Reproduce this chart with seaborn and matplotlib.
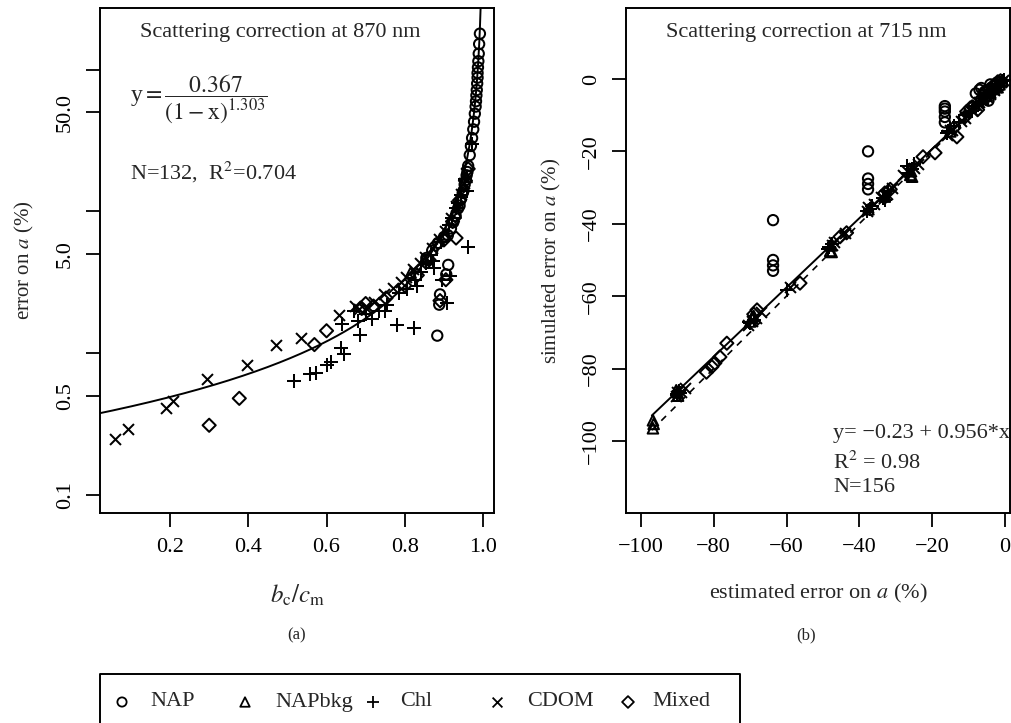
import numpy as np
import pandas as pd
import seaborn as sns
import matplotlib
matplotlib.use("Agg")
import matplotlib.pyplot as plt

# ---------------- data: panel (a) ----------------
nap_a_x = [0.992, 0.990, 0.989, 0.988, 0.987, 0.986, 0.986, 0.985, 0.984, 0.983, 0.982, 0.981, 0.979, 0.977,
           0.975, 0.972, 0.969, 0.966, 0.962, 0.958, 0.953, 0.948, 0.942, 0.936, 0.930, 0.924, 0.918, 0.910,
           0.900, 0.885, 0.870, 0.855, 0.911, 0.906, 0.890, 0.888, 0.883, 0.940, 0.950, 0.960]
nap_a_y = [180, 152, 130, 115, 104, 95, 88, 80, 72, 66, 60, 55, 49, 43,
           38, 33, 29, 25, 21, 18, 15.5, 13.5, 12, 10.5, 9.3, 8.4, 7.6, 6.8,
           6.6, 6.0, 5.3, 4.7, 4.2, 3.6, 2.6, 2.2, 1.33, 11, 14, 19]
bkg_a_x = [0.850, 0.900, 0.930, 0.958, 0.815]
bkg_a_y = [4.6, 6.9, 9.8, 17.5, 3.7]
chl_a_x = [0.517, 0.557, 0.572, 0.600, 0.612, 0.637, 0.645, 0.686, 0.780, 0.824, 0.640, 0.700, 0.735, 0.715,
           0.755, 0.785, 0.805, 0.825, 0.842, 0.855, 0.868, 0.875, 0.895, 0.908, 0.916, 0.962, 0.893, 0.912,
           0.930, 0.944, 0.955, 0.936, 0.920, 0.830, 0.872, 0.750, 0.680, 0.670, 0.960, 0.972]
chl_a_y = [0.64, 0.71, 0.72, 0.83, 0.87, 1.08, 0.98, 1.35, 1.57, 1.50, 1.60, 1.90, 1.97, 1.75,
           2.20, 2.65, 2.85, 3.30, 3.75, 4.30, 4.90, 4.00, 3.30, 2.25, 3.50, 5.60, 6.10, 8.00,
           10.5, 13.0, 17.0, 11.5, 9.00, 3.00, 4.50, 2.00, 1.70, 2.00, 14.0, 30.0]
cdom_a_x = [0.059, 0.093, 0.190, 0.207, 0.295, 0.397, 0.470, 0.535, 0.632, 0.673, 0.682, 0.700, 0.722, 0.748,
            0.770, 0.790, 0.803, 0.820, 0.838, 0.852, 0.870, 0.888, 0.902, 0.918, 0.932, 0.943, 0.952]
cdom_a_y = [0.248, 0.29, 0.41, 0.46, 0.66, 0.83, 1.15, 1.29, 1.85, 2.17, 2.05, 2.10, 2.30, 2.60,
            2.90, 3.20, 3.45, 3.90, 4.35, 4.80, 5.50, 6.40, 7.30, 9.00, 11.0, 13.2, 16.0]
mix_a_x = [0.300, 0.377, 0.569, 0.600, 0.690, 0.700, 0.720, 0.752, 0.800, 0.832, 0.862, 0.880, 0.900, 0.931,
           0.905, 0.890, 0.922, 0.940, 0.955, 0.962]
mix_a_y = [0.31, 0.48, 1.15, 1.44, 2.07, 2.24, 2.15, 2.45, 3.00, 3.55, 4.55, 5.80, 6.30, 6.50,
           3.30, 2.35, 8.50, 12.0, 16.5, 20.0]
fit_a_coef = 0.367
fit_a_exp = 1.303

# ---------------- data: panel (b) ----------------
nap_b_x = [-63.7, -63.7, -63.7, -63.7, -37.6, -37.6, -37.6, -37.6, -16.5, -16.5, -16.5, -16.5,
           -7.0, -6.0, -5.0, -4.0, -3.0, -2.5, -4.5, -8.0, -6.5, -5.5, -3.5, -2.0, -1.5, -4.0, -16.5]
nap_b_y = [-39.0, -50.0, -51.5, -53.0, -20.0, -27.5, -29.0, -30.5, -7.5, -9.0, -10.5, -12.0,
           -3.0, -4.5, -5.0, -4.0, -2.0, -1.5, -6.0, -4.0, -2.5, -3.5, -2.8, -1.0, -2.0, -1.5, -8.2]
bkg_b_x = [-96.7, -96.7, -96.5, -90.0, -89.8, -70.0, -69.5, -48.0, -47.8, -37.5, -33.0, -25.5, -25.8,
           -15.0, -5.0, -3.0, -1.5, -90.3, -69.0, -47.6, -26.0, -6.0, -4.0, -2.0, -0.8]
bkg_b_y = [-96.5, -94.3, -95.3, -86.5, -87.5, -67.0, -66.0, -47.5, -46.0, -36.0, -32.5, -27.0, -25.5,
           -14.5, -4.5, -2.8, -1.5, -86.0, -65.5, -47.8, -26.5, -5.5, -3.8, -2.3, -0.6]
chl_b_x = [-90.0, -89.5, -70.0, -69.0, -60.0, -48.2, -47.5, -37.8, -36.5, -33.5, -32.0, -27.0, -26.5,
           -25.0, -15.5, -14.0, -10.0, -8.0, -6.0, -4.0, -2.0, -1.0, -89.2, -70.2, -48.5, -37.0,
           -12.5, -9.0, -7.0, -5.0, -3.0, -0.8, -25.5, -33.0, -16.0, -11.0, -0.3]
chl_b_y = [-87.0, -86.2, -67.5, -66.5, -58.3, -46.5, -45.5, -36.5, -35.0, -33.0, -31.0, -24.0, -26.0,
           -23.5, -14.5, -13.0, -9.5, -7.5, -6.0, -3.5, -2.0, -1.0, -86.8, -67.2, -47.0, -35.8,
           -12.0, -8.8, -6.8, -4.8, -3.2, -0.5, -24.8, -33.5, -15.0, -10.0, -0.2]
cdom_b_x = [-90.5, -89.0, -88.0, -70.5, -68.5, -67.0, -59.0, -47.0, -44.0, -38.0, -36.0, -34.0, -31.0,
            -28.0, -24.0, -16.0, -14.5, -12.0, -9.0, -7.0, -5.0, -3.0, -1.5, -0.5, -90.0, -69.5,
            -47.5, -37.5, -8.0, -6.0, -4.0, -2.5, -1.0, -27.0, -15.0, -11.0, -33.0, -32.5, -25.0]
cdom_b_y = [-87.5, -86.5, -85.5, -68.0, -66.0, -64.5, -57.5, -45.0, -42.5, -36.5, -34.5, -32.5, -30.0,
            -26.5, -23.5, -15.5, -14.0, -11.5, -8.5, -6.5, -5.0, -3.0, -1.2, -0.3, -86.5, -67.0,
            -46.0, -35.5, -7.2, -5.8, -4.2, -2.2, -0.8, -25.5, -14.2, -10.8, -32.0, -31.8, -24.5]
mix_b_x = [-82.0, -80.5, -79.7, -78.3, -76.4, -68.1, -56.3, -45.3, -43.5, -33.0, -31.5, -22.5, -19.2,
           -13.2, -11.0, -8.8, -6.5, -4.5, -3.3, -2.0, -10.5, -7.5, -14.0, -9.5, -5.5, -2.8, -1.2, -69.0]
mix_b_y = [-81.0, -79.5, -78.5, -76.8, -73.0, -63.8, -56.4, -43.6, -42.5, -31.5, -30.5, -21.5, -20.4,
           -16.0, -10.5, -7.7, -5.5, -3.0, -2.0, -0.8, -9.0, -8.5, -13.5, -8.0, -3.5, -1.5, -0.5, -65.0]
fit_b_intercept = -0.23
fit_b_slope = 0.956
fit_b_range = [-97.0, 0.5]

legend_labels = ["NAP", "NAPbkg", "Chl", "CDOM", "Mixed"]

# ---------------- style ----------------
sns.set_style("ticks")
plt.rcParams["font.family"] = ["Liberation Serif", "DejaVu Serif"]
plt.rcParams["mathtext.fontset"] = "stix"
plt.rcParams["axes.linewidth"] = 1.4
plt.rcParams["axes.edgecolor"] = "black"
plt.rcParams["xtick.color"] = "black"
plt.rcParams["ytick.color"] = "black"

FS = 16
W, H = 1011, 723
fig = plt.figure(figsize=(W / 100, H / 100), dpi=100)

def px_axes(l, r, t, b):
    return fig.add_axes([l / W, (H - b) / H, (r - l) / W, (b - t) / H])

axA = px_axes(100, 494, 8, 513)
axB = px_axes(626, 1010, 8, 513)

STY = {
    "NAP": dict(marker="o", s=55),
    "NAPbkg": dict(marker="^", s=58),
    "Chl": dict(marker="+", s=100),
    "CDOM": dict(marker="x", s=62),
    "Mixed": dict(marker="D", s=45),
}
MLW = 1.45

def draw(ax, xs, ys, key):
    st = STY[key]
    if st["marker"] in ("+", "x"):
        sns.scatterplot(x=xs, y=ys, ax=ax, marker=st["marker"], s=st["s"], color="black",
                        linewidth=MLW, zorder=3)
    else:
        sns.scatterplot(x=xs, y=ys, ax=ax, marker=st["marker"], s=st["s"], facecolor="none",
                        edgecolor="black", linewidth=MLW, zorder=3)

# ---------------- panel (a) ----------------
axA.set_yscale("log")
draw(axA, nap_a_x, nap_a_y, "NAP")
draw(axA, bkg_a_x, bkg_a_y, "NAPbkg")
draw(axA, chl_a_x, chl_a_y, "Chl")
draw(axA, cdom_a_x, cdom_a_y, "CDOM")
draw(axA, mix_a_x, mix_a_y, "Mixed")
curve_x = np.linspace(0.0, 0.9937, 600)
curve_y = fit_a_coef / (1 - curve_x) ** fit_a_exp
sns.lineplot(x=curve_x, y=curve_y, ax=axA, color="black", linewidth=1.4, estimator=None, sort=False)
axA.set_xlim(0.021, 1.028)
axA.set_ylim(0.0745, 273)
axA.set_xticks([0.2, 0.4, 0.6, 0.8, 1.0])
axA.set_xticklabels(["0.2", "0.4", "0.6", "0.8", "1.0"])
axA.yaxis.set_minor_locator(matplotlib.ticker.NullLocator())
axA.set_yticks([0.1, 0.5, 1, 5, 10, 50, 100])
axA.set_yticklabels(["0.1", "0.5", "", "5.0", "", "50.0", ""])
axA.set_xlabel(r"$b_{\mathrm{c}}/c_{\mathrm{m}}$", fontsize=FS + 2, va="center")
axA.xaxis.set_label_coords(0.5, (513 - 595) / 505)
axA.set_ylabel(r"error on $a$ (%)", fontsize=FS - 1, va="center")
axA.yaxis.set_label_coords((24 - 100) / 394, 0.5)
axA.text(0.457, 0.952, "Scattering correction at 870 nm", transform=axA.transAxes,
         ha="center", va="center", fontsize=FS)
axA.text(0.076, 0.82, r"y$=\dfrac{0.367}{(1-\mathrm{x})^{1.303}}$", transform=axA.transAxes,
         ha="left", va="center", fontsize=FS + 1)
axA.text(0.076, 0.675, r"N=132,  R$^2$=0.704", transform=axA.transAxes,
         ha="left", va="center", fontsize=FS)

# ---------------- panel (b) ----------------
draw(axB, nap_b_x, nap_b_y, "NAP")
draw(axB, bkg_b_x, bkg_b_y, "NAPbkg")
draw(axB, chl_b_x, chl_b_y, "Chl")
draw(axB, cdom_b_x, cdom_b_y, "CDOM")
draw(axB, mix_b_x, mix_b_y, "Mixed")
line_x = np.array(fit_b_range)
sns.lineplot(x=line_x, y=fit_b_intercept + fit_b_slope * line_x, ax=axB, color="black",
             linewidth=1.4, estimator=None, sort=False)
sns.lineplot(x=line_x, y=line_x, ax=axB, color="black", linewidth=1.2, linestyle=(0, (4, 4)),
             estimator=None, sort=False)
axB.set_xlim(-104.1, 1.4)
axB.set_ylim(-119.9, 19.6)
axB.set_xticks([-100, -80, -60, -40, -20, 0])
axB.set_yticks([-100, -80, -60, -40, -20, 0])
axB.set_xlabel(r"estimated error on $a$ (%)", fontsize=FS, va="center")
axB.xaxis.set_label_coords(0.5, (513 - 593) / 505)
axB.set_ylabel(r"simulated error on $a$ (%)", fontsize=FS - 1, va="center")
axB.yaxis.set_label_coords((551 - 626) / 384, 0.5)
axB.text(0.469, 0.952, "Scattering correction at 715 nm", transform=axB.transAxes,
         ha="center", va="center", fontsize=FS)
axB.text(0.539, 0.158, "y= \u22120.23 + 0.956*x", transform=axB.transAxes,
         ha="left", va="center", fontsize=FS)
axB.text(0.539, 0.099, r"R$^2$ = 0.98", transform=axB.transAxes,
         ha="left", va="center", fontsize=FS)
axB.text(0.539, 0.051, "N=156", transform=axB.transAxes,
         ha="left", va="center", fontsize=FS)

for ax in (axA, axB):
    for sp in ax.spines.values():
        sp.set_visible(True)
        sp.set_color("black")
        sp.set_linewidth(1.4)
    ax.tick_params(axis="both", which="major", direction="out", length=10, width=1.3,
                   labelsize=FS, pad=8)
    ax.tick_params(axis="y", labelrotation=90)
    for lab in ax.get_yticklabels():
        lab.set_va("center")
    ax.grid(False)

# ---------------- captions & legend ----------------
ov = fig.add_axes([0, 0, 1, 1], zorder=-1)
ov.set_xlim(0, W)
ov.set_ylim(H, 0)
ov.axis("off")
ov.text(297, 635, "(a)", ha="center", va="center", fontsize=12)
ov.text(806, 635, "(b)", ha="center", va="center", fontsize=12)
ov.plot([100, 100, 740, 740], [740, 674, 674, 740], color="black", linewidth=1.4, clip_on=False)

leg_marker_x = [122, 245, 373, 497, 628]
leg_text_x = [150, 275, 400, 527, 652]
leg_y = 702
for key, mx, tx in zip(legend_labels, leg_marker_x, leg_text_x):
    st = STY[key]
    if st["marker"] in ("+", "x"):
        ov.scatter([mx], [leg_y], marker=st["marker"], s=st["s"] * 0.8, color="black", linewidth=1.3)
    else:
        ov.scatter([mx], [leg_y], marker=st["marker"], s=st["s"] * 0.8, facecolor="none",
                   edgecolor="black", linewidth=1.3)
    ov.text(tx, leg_y, key, ha="left", va="center", fontsize=FS)

fig.savefig("out.png", dpi=100, facecolor="white")
